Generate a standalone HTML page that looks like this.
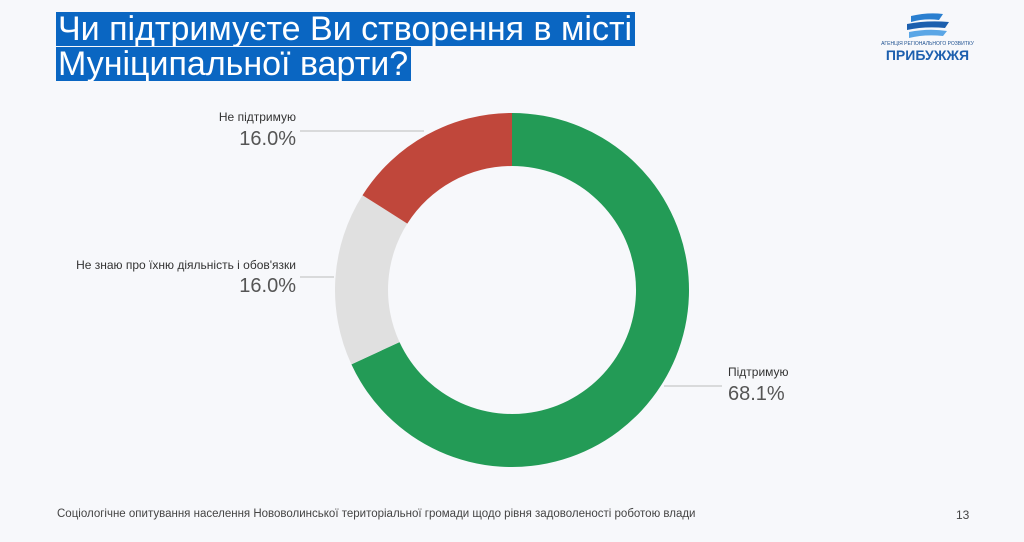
<!DOCTYPE html>
<html><head><meta charset="utf-8"><style>
body{margin:0;width:1024px;height:542px;background:#f7f8fb;font-family:"Liberation Sans",sans-serif;position:relative;overflow:hidden}
.t{position:absolute;left:56px;background:#0a66c2;color:#fff;font-size:34px;line-height:34px;height:34px;padding:0 3px 0 2px;white-space:nowrap;overflow:hidden}
.l{position:absolute;color:#333;font-size:12px;white-space:nowrap}
.p{position:absolute;color:#555;font-size:20px;white-space:nowrap}
</style></head><body>
<div class="t" style="top:12px">Чи підтримуєте Ви створення в місті</div>
<div class="t" style="top:47px">Муніципальної варти?</div>
<div style="position:absolute;left:880px;top:12px;width:95px;text-align:center">
<svg width="50" height="26" viewBox="0 0 50 26"><path d="M8 4 Q25 0 40 2 L36 8 Q22 6 8 10Z" fill="#2a7fd0"/><path d="M4 12 Q24 8 46 10 L42 16 Q22 14 4 18Z" fill="#1c5fae"/><path d="M6 20 Q26 16 44 19 L40 24 Q22 22 6 26Z" fill="#5aa6e6"/></svg>
<div style="font-size:5px;color:#1c4f8f;margin-top:-2px">АГЕНЦІЯ РЕГІОНАЛЬНОГО РОЗВИТКУ</div>
<div style="font-size:14px;font-weight:bold;color:#1c5fae;line-height:16px">ПРИБУЖЖЯ</div></div>
<svg style="position:absolute;left:0;top:0" width="1024" height="542">
<line x1="300" y1="131" x2="424" y2="131" stroke="#bbb"/>
<line x1="300" y1="277" x2="334" y2="277" stroke="#bbb"/>
<line x1="664" y1="386" x2="722" y2="386" stroke="#bbb"/>
<g transform="translate(512,290)">
<path d="M0,-177 A177,177 0 1 1 -160.6,74.4 L-112.5,52.1 A124,124 0 1 0 0,-124Z" fill="#239b56"/>
<path d="M-160.6,74.4 A177,177 0 0 1 -149.5,-94.8 L-104.7,-66.4 A124,124 0 0 0 -112.5,52.1Z" fill="#e0e0e0"/>
<path d="M-149.5,-94.8 A177,177 0 0 1 0,-177 L0,-124 A124,124 0 0 0 -104.7,-66.4Z" fill="#c0473b"/>
</g></svg>
<div class="l" style="right:728px;top:110px">Не підтримую</div>
<div class="p" style="right:728px;top:128px">16.0%</div>
<div class="l" style="right:728px;top:258px">Не знаю про їхню діяльність і обов'язки</div>
<div class="p" style="right:728px;top:275px">16.0%</div>
<div class="l" style="left:728px;top:365px">Підтримую</div>
<div class="p" style="left:728px;top:383px">68.1%</div>
<div style="position:absolute;left:57px;top:508px;font-size:11.5px;color:#444">Соціологічне опитування населення Нововолинської територіальної громади щодо рівня задоволеності роботою влади</div>
<div style="position:absolute;left:956px;top:508px;font-size:12px;color:#444">13</div>
</body></html>
